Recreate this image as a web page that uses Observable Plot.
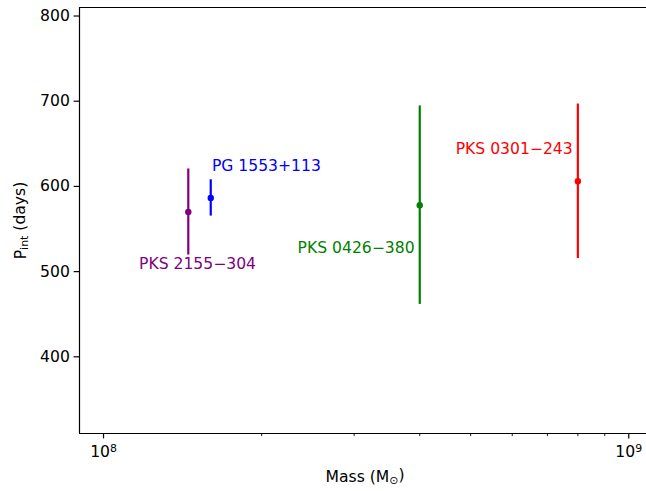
<!DOCTYPE html>
<html>
<head>
<meta charset="utf-8">
<script src="https://cdn.jsdelivr.net/npm/d3@7"></script>
<script src="https://cdn.jsdelivr.net/npm/@observablehq/plot@0.6"></script>
<style>
  html, body { margin: 0; padding: 0; background: #fff; overflow: hidden; scrollbar-width: none; }
  ::-webkit-scrollbar { display: none; width: 0; height: 0; }
  #chart { width: 646px; height: 491px; overflow: hidden; }
  #chart svg { max-width: none !important; overflow: hidden !important; display: block; }
</style>
</head>
<body>
<div id="chart"></div>
<script>
// ---- data ----
const names = ["PKS 2155\u2212304", "PG 1553+113", "PKS 0426\u2212380", "PKS 0301\u2212243"];
const mass = [1.45e8, 1.6e8, 4.0e8, 8.0e8];
const period = [570, 586.5, 578, 606];
const periodErr = [50.5, 21.3, 116.5, 90.7];
const colors = ["purple", "blue", "green", "red"];
// annotation positions (data units) and alignment
const labelMass = [1.51e8, 1.608e8, 3.91e8, 7.82e8];
const labelPeriod = [509, 623.5, 527.5, 643.7];
const labelAnchor = ["middle", "start", "end", "end"];
const xMajorTicks = [1e8, 1e9];
const xMinorTicks = [2e8, 3e8, 4e8, 5e8, 6e8, 7e8, 8e8, 9e8];
const yTicks = [400, 500, 600, 700, 800];
const xDomain = [9e7, 1.1e9];
const yDomain = [310, 810];
const xTitle = "Mass (M_{\u2299})";
const yTitle = "P_{int} (days)";

const idx = d3.range(names.length);
const FS = 15.6;

const labelMarks = ["start", "middle", "end"].map(a =>
  Plot.text(idx.filter(i => labelAnchor[i] === a), {
    x: i => labelMass[i], y: i => labelPeriod[i], text: i => names[i],
    fill: i => colors[i], textAnchor: a, lineAnchor: "middle", fontSize: FS
  })
);

const chart = Plot.plot({
  width: 646, height: 491,
  marginLeft: 79, marginRight: -4, marginTop: 7, marginBottom: 58,
  style: { fontFamily: "DejaVu Sans", fontSize: FS + "px", color: "black", background: "white", maxWidth: "none" },
  x: { type: "log", domain: xDomain },
  y: { domain: yDomain },
  color: { type: "identity" },
  marks: [
    Plot.ruleX(idx, { x: i => mass[i], y1: i => period[i] - periodErr[i], y2: i => period[i] + periodErr[i], stroke: i => colors[i], strokeWidth: 2.2 }),
    Plot.dot(idx, { x: i => mass[i], y: i => period[i], fill: i => colors[i], r: 3.2, stroke: null }),
    ...labelMarks,
    Plot.axisX({ ticks: xMinorTicks, tickSize: 3.1, tickFormat: () => "", strokeWidth: 0.9, label: null }),
    Plot.axisX({ ticks: xMajorTicks, tickSize: 5.4, tickPadding: 6.8, strokeWidth: 1.2, fontSize: FS,
      tickFormat: d => "10^" + Math.round(Math.log10(d)), label: null }),
    Plot.axisY({ ticks: yTicks, tickSize: 5.4, tickPadding: 4.3, strokeWidth: 1.2, fontSize: FS, label: null }),
    // spines (the right spine falls outside the cropped picture)
    Plot.ruleY([yDomain[1]], { stroke: "black", strokeWidth: 1.2 }),
    Plot.ruleY([yDomain[0]], { stroke: "black", strokeWidth: 1.2 }),
    Plot.ruleX([xDomain[0]], { stroke: "black", strokeWidth: 1.2 }),
    Plot.text([xTitle], { frameAnchor: "bottom", dy: 48, lineAnchor: "bottom", textAnchor: "middle", fontSize: FS }),
    Plot.text([yTitle], { frameAnchor: "left", dx: -53.5, rotate: -90, lineAnchor: "bottom", textAnchor: "middle", fontSize: FS })
  ]
});

const NS = "http://www.w3.org/2000/svg";
// superscripts on log tick labels, subscripts on axis titles
chart.querySelectorAll("text").forEach(t => {
  const s = t.textContent;
  let m = s.match(/^(\d+)\^(\d+)$/);
  if (m) {
    t.textContent = "";
    t.append(m[1]);
    const sup = document.createElementNS(NS, "tspan");
    sup.setAttribute("dy", "-0.42em");
    sup.setAttribute("font-size", "70%");
    sup.textContent = m[2];
    t.appendChild(sup);
    return;
  }
  m = s.match(/^(.*?)_\{(.*?)\}(.*)$/);
  if (m) {
    t.textContent = "";
    t.append(m[1]);
    const sub = document.createElementNS(NS, "tspan");
    sub.setAttribute("dy", "0.22em");
    sub.setAttribute("font-size", "70%");
    sub.textContent = m[2];
    t.appendChild(sub);
    const rest = document.createElementNS(NS, "tspan");
    rest.setAttribute("dy", "-0.22em");
    rest.textContent = m[3];
    t.appendChild(rest);
  }
});
document.getElementById("chart").appendChild(chart);
</script>
</body>
</html>
